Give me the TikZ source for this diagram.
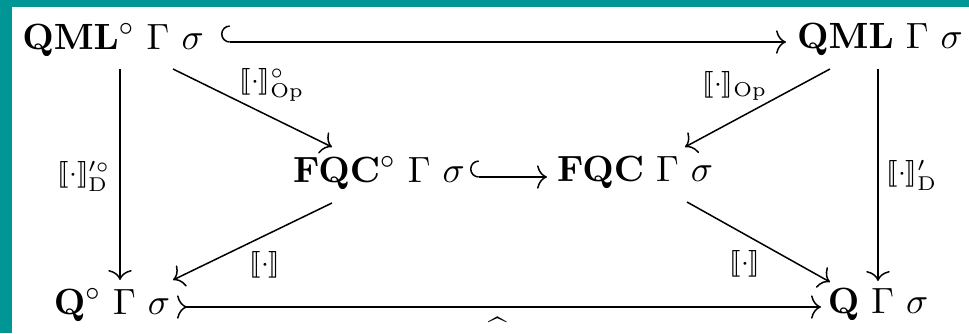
\documentclass[tikz,border=0pt]{standalone}
\usepackage{stmaryrd}
\usetikzlibrary{arrows.meta,calc}
\definecolor{framecol}{RGB}{0,150,150}
\newcommand{\sem}{\llbracket\cdot\rrbracket}
\begin{document}
\begin{tikzpicture}[x=0.3pt,y=-0.3pt,
  obj/.style={inner sep=0pt, font=\fontsize{11}{13}\selectfont},
  lab/.style={inner sep=0pt, font=\fontsize{8.5}{10}\selectfont},
  arr/.style={line width=0.45pt, -{To[length=3pt,width=7pt]}},
  hookarr/.style={line width=0.45pt, {Hooks[right,length=2.6pt,width=10pt]}-{To[length=3pt,width=7pt]}},
  monoarr/.style={line width=0.45pt, {To[length=3pt,width=7pt,reversed]}-{To[length=3pt,width=7pt]}},
]
\fill[framecol] (0,0) rectangle (969,333);
\fill[white] (12,7) rectangle (969,333);
\useasboundingbox (0,0) rectangle (969,333);

\node[obj] (A) at (113,40) {$\mathbf{QML}^\circ\ \Gamma\ \sigma$};
\node[obj] (B) at (880,40) {$\mathbf{QML}\ \Gamma\ \sigma$};
\node[obj] (C) at (379,173) {$\mathbf{FQC}^\circ\ \Gamma\ \sigma$};
\node[obj] (D) at (635,173) {$\mathbf{FQC}\ \Gamma\ \sigma$};
\node[obj] (E) at (112,305) {$\mathbf{Q}^\circ\ \Gamma\ \sigma$};
\node[obj] (F) at (878,305) {$\mathbf{Q}\ \Gamma\ \sigma$};

\draw[hookarr] ($(A)+(108,2)$) -- ($(B)+(-94,2)$);
\draw[arr] ($(A)+(7,29)$) -- ($(E)+(8,-25)$);
\draw[arr] ($(B)+(-2,29)$) -- ($(F)+(0,-24)$);
\draw[arr] ($(A)+(60,29)$) -- ($(C)+(-47,-26)$);
\draw[arr] ($(B)+(-50,29)$) -- ($(D)+(50,-26)$);
\draw[arr] ($(C)+(-47,30)$) -- ($(E)+(61,-25)$);
\draw[arr] ($(D)+(52,29)$) -- ($(F)+(-48,-23)$);
\draw[hookarr] ($(C)+(91,4)$) -- ($(D)+(-88,4)$);
\draw[monoarr] ($(E)+(65,2)$) -- ($(F)+(-57,2)$);

\node[lab] (l1) at (272,85) {$\sem^\circ_{\mathrm{Op}}$};
\node[lab] (l2) at (735,86) {$\sem_{\mathrm{Op}}$};
\node[lab] (l3) at (84,176) {$\sem^{\prime\circ}_{\mathrm{D}}$};
\node[lab] (l4) at (912,175) {$\sem'_{\mathrm{D}}$};
\node[lab] (l5) at (265,265) {$\sem$};
\node[lab] (l6) at (745,264) {$\sem$};
\node[lab] (l7) at (498,321) {\raisebox{-0.74em}[0.08em][0.08em]{$\widehat{\hphantom{x}}$}};
\end{tikzpicture}
\end{document}
